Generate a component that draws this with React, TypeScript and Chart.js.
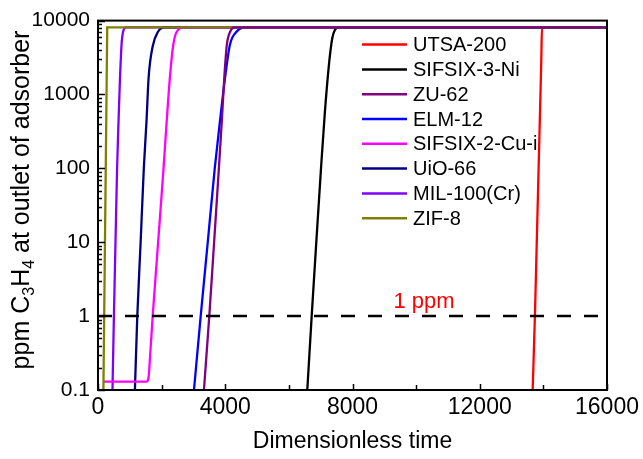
import { useEffect, useRef } from 'react';
import { Chart, registerables } from 'chart.js';

Chart.register(...registerables);

const FONT = '"Liberation Sans", Arial, sans-serif';

const seriesNames = ['UTSA-200', 'SIFSIX-3-Ni', 'ZU-62', 'ELM-12', 'SIFSIX-2-Cu-i', 'UiO-66', 'MIL-100(Cr)', 'ZIF-8'];
const seriesColors = ['#FF0000', '#000000', '#800080', '#0000FF', '#FF00FF', '#000080', '#8000FF', '#808000'];

// dimensionless time / ppm pairs
const utsaTime = [13663, 13734, 13792, 13850, 13908, 13935, 13955, 16000];
const utsaPpm = [0.1, 1, 10, 100, 1000, 3000, 8100, 8100];

const sifsix3Time = [6579, 6717, 6862, 7010, 7134, 7270, 7364, 7450, 7570, 16000];
const sifsix3Ppm = [0.1, 1, 10, 100, 594, 2800, 5770, 7500, 8100, 8100];

const zu62Time = [3330, 3498, 3650, 3800, 3900, 3969, 4050, 4150, 4300, 16000];
const zu62Ppm = [0.1, 1, 10, 100, 500, 1670, 4700, 7000, 8100, 8100];

const elm12Time = [3017, 3228, 3450, 3670, 3850, 3992, 4149, 4360, 4620, 16000];
const elm12Ppm = [0.1, 1, 10, 100, 500, 1670, 4750, 7100, 8100, 8100];

const sifsix2Time = [180, 1530, 1590, 1640, 1719, 1890, 2060, 2160, 2260, 2360, 2470, 2720, 16000];
const sifsix2Ppm = [0.13, 0.13, 0.15, 0.3, 1, 10, 100, 437, 1700, 4500, 7000, 8100, 8100];

const uio66Time = [1160, 1235, 1340, 1440, 1525, 1590, 1720, 1880, 2090, 16000];
const uio66Ppm = [0.1, 1, 10, 100, 437, 1670, 4500, 7000, 8100, 8100];

const mil100Time = [455, 500, 550, 600, 650, 690, 740, 790, 880, 16000];
const mil100Ppm = [0.1, 1, 10, 100, 500, 1600, 4700, 7100, 8100, 8100];

const zif8Time = [170, 290, 16000];
const zif8Ppm = [0.1, 8100, 8100];

const seriesTimes = [utsaTime, sifsix3Time, zu62Time, elm12Time, sifsix2Time, uio66Time, mil100Time, zif8Time];
const seriesPpms = [utsaPpm, sifsix3Ppm, zu62Ppm, elm12Ppm, sifsix2Ppm, uio66Ppm, mil100Ppm, zif8Ppm];
const seriesOrder = [5, 4, 0, 3, 6, 7, 8, 1];

const xTickValues = [0, 4000, 8000, 12000, 16000];
const xMinorTickValues = [2000, 6000, 10000, 14000];
const yTickValues = [0.1, 1, 10, 100, 1000, 10000];

const thresholdPpm = 1;
const thresholdLabel = '1 ppm';
const thresholdLabelTime = 10250;
const thresholdLabelPpm = 1.27;

const xTitle = 'Dimensionless time';

const overlayPlugin = {
  id: 'overlay',
  beforeDatasetsDraw(chart: any) {
    const ctx = chart.ctx;
    const ca = chart.chartArea;
    ctx.save();
    ctx.font = `20px ${FONT}`;
    ctx.textBaseline = 'middle';
    ctx.textAlign = 'left';
    seriesNames.forEach((name, i) => {
      const y = ca.top + 24 + i * 24.8;
      ctx.strokeStyle = seriesColors[i];
      ctx.lineWidth = 2.5;
      ctx.beginPath();
      ctx.moveTo(ca.left + 264, y);
      ctx.lineTo(ca.left + 309, y);
      ctx.stroke();
      ctx.fillStyle = '#000';
      ctx.fillText(name, ca.left + 315, y + 1);
    });
    ctx.restore();
  },
  afterDatasetsDraw(chart: any) {
    const ctx = chart.ctx;
    const ca = chart.chartArea;
    const xs = chart.scales.x;
    const ys = chart.scales.y;
    ctx.save();
    // 1 ppm label
    ctx.font = `22px ${FONT}`;
    ctx.fillStyle = '#FF0000';
    ctx.textAlign = 'center';
    ctx.textBaseline = 'alphabetic';
    ctx.fillText(thresholdLabel, xs.getPixelForValue(thresholdLabelTime), ys.getPixelForValue(thresholdLabelPpm));

    ctx.strokeStyle = '#000';
    ctx.lineWidth = 1.5;
    ctx.beginPath();
    xTickValues.forEach((v) => {
      const px = Math.round(xs.getPixelForValue(v)) + 0.5;
      ctx.moveTo(px, ca.bottom);
      ctx.lineTo(px, ca.bottom - 6);
    });
    xMinorTickValues.forEach((v) => {
      const px = Math.round(xs.getPixelForValue(v)) + 0.5;
      ctx.moveTo(px, ca.bottom);
      ctx.lineTo(px, ca.bottom - 5);
    });
    for (let d = 0; d < yTickValues.length; d++) {
      const base = yTickValues[d];
      const py = Math.round(ys.getPixelForValue(base)) + 0.5;
      ctx.moveTo(ca.left, py);
      ctx.lineTo(ca.left + 7, py);
      if (d < yTickValues.length - 1) {
        for (let m = 2; m <= 9; m++) {
          const pm = Math.round(ys.getPixelForValue(base * m)) + 0.5;
          ctx.moveTo(ca.left, pm);
          ctx.lineTo(ca.left + 4, pm);
        }
      }
    }
    ctx.stroke();

    ctx.lineWidth = 2;
    ctx.strokeRect(ca.left, ca.top, ca.right - ca.left, ca.bottom - ca.top);
    ctx.restore();
  },
  afterDraw(chart: any) {
    const ctx = chart.ctx;
    const ca = chart.chartArea;
    ctx.save();
    ctx.fillStyle = '#000';
    // x title
    ctx.font = `23px ${FONT}`;
    ctx.textAlign = 'center';
    ctx.textBaseline = 'alphabetic';
    ctx.fillText(xTitle, (ca.left + ca.right) / 2, 448);
    // y title with subscripts
    const pieces = [
      { t: 'ppm C', sub: false },
      { t: '3', sub: true },
      { t: 'H', sub: false },
      { t: '4', sub: true },
      { t: ' at outlet of adsorber', sub: false },
    ];
    const mainFont = `25px ${FONT}`;
    const subFont = `16px ${FONT}`;
    let total = 0;
    const widths = pieces.map((p) => {
      ctx.font = p.sub ? subFont : mainFont;
      const w = ctx.measureText(p.t).width;
      total += w;
      return w;
    });
    ctx.translate(29, 200);
    ctx.rotate(-Math.PI / 2);
    ctx.textAlign = 'left';
    let cur = -total / 2;
    pieces.forEach((p, i) => {
      ctx.font = p.sub ? subFont : mainFont;
      ctx.fillText(p.t, cur, p.sub ? 5 : 0);
      cur += widths[i];
    });
    ctx.restore();
  },
};

export default function App() {
  const canvasRef = useRef<HTMLCanvasElement | null>(null);

  useEffect(() => {
    if (!canvasRef.current) return;
    Chart.defaults.font.family = FONT;
    const datasets: any[] = seriesNames.map((name, i) => ({
      label: name,
      data: seriesTimes[i].map((t, j) => ({ x: t, y: seriesPpms[i][j] })),
      borderColor: seriesColors[i],
      backgroundColor: seriesColors[i],
      borderWidth: 2.3,
      pointRadius: 0,
      fill: false,
      cubicInterpolationMode: name === 'ZIF-8' ? 'default' : 'monotone',
      tension: 0,
      order: seriesOrder[i],
    }));
    datasets.push({
      label: 'threshold',
      data: [
        { x: 0, y: thresholdPpm },
        { x: 16000, y: thresholdPpm },
      ],
      borderColor: '#000',
      borderWidth: 2.5,
      borderDash: [14, 13],
      pointRadius: 0,
      fill: false,
      order: -1,
    });

    const chart = new Chart(canvasRef.current, {
      type: 'line',
      data: { datasets },
      options: {
        animation: false,
        responsive: false,
        maintainAspectRatio: false,
        layout: { padding: { top: 19, right: 36, left: 0, bottom: 0 } },
        plugins: { legend: { display: false }, tooltip: { enabled: false } },
        scales: {
          x: {
            type: 'linear',
            min: 0,
            max: 16000,
            grid: { display: false, drawTicks: false },
            border: { display: false },
            afterBuildTicks: (scale: any) => {
              scale.ticks = xTickValues.map((v) => ({ value: v }));
            },
            afterFit: (scale: any) => {
              scale.height = 69;
            },
            ticks: {
              autoSkip: false,
              maxRotation: 0,
              padding: 4,
              color: '#000',
              font: { size: 23, family: FONT },
              callback: (v: any) => String(v),
            },
          },
          y: {
            type: 'logarithmic',
            min: 0.1,
            max: 10000,
            grid: { display: false, drawTicks: false },
            border: { display: false },
            afterBuildTicks: (scale: any) => {
              scale.ticks = yTickValues.map((v) => ({ value: v }));
            },
            afterFit: (scale: any) => {
              scale.width = 98;
            },
            ticks: {
              autoSkip: false,
              padding: 8,
              color: '#000',
              font: { size: 21, family: FONT },
              callback: (v: any) => String(v),
            },
          },
        },
      },
      plugins: [overlayPlugin],
    });
    return () => chart.destroy();
  }, []);

  return (
    <div style={{ position: 'fixed', left: 0, top: 0, width: 643, height: 459, background: '#fff' }}>
      <canvas ref={canvasRef} width={643} height={459} style={{ display: 'block' }} />
    </div>
  );
}
